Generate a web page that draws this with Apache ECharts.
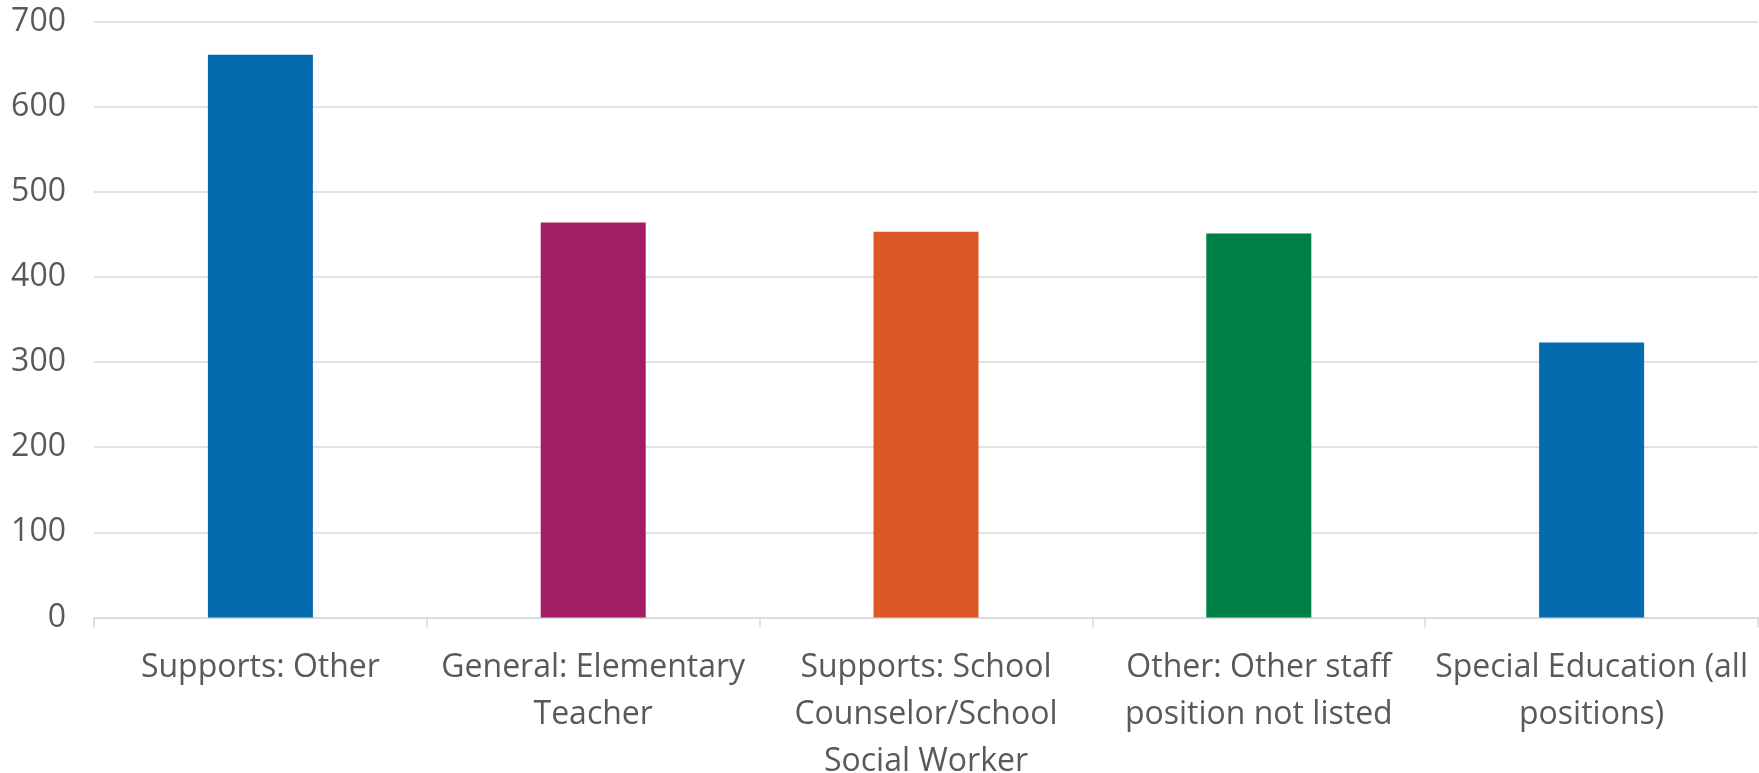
<!DOCTYPE html>
<html>
<head>
<meta charset="utf-8">
<script src="https://cdn.jsdelivr.net/npm/echarts@6/dist/echarts.min.js"></script>
<style>
html,body{margin:0;padding:0;background:#fff;}
#chart{width:1759px;height:773px;}
</style>
</head>
<body>
<div id="chart"></div>
<script>
const categories = [
  "Supports: Other",
  "General: Elementary Teacher",
  "Supports: School Counselor/School Social Worker",
  "Other: Other staff position not listed",
  "Special Education (all positions)"
];
const categoryLabels = [
  "Supports: Other",
  "General: Elementary\nTeacher",
  "Supports: School\nCounselor/School\nSocial Worker",
  "Other: Other staff\nposition not listed",
  "Special Education (all\npositions)"
];
const values = [661, 464, 453, 451, 323];
const barColors = ["#036BAE", "#A21F63", "#DC5626", "#007F45", "#036BAE"];
const yTicks = { min: 0, max: 700, interval: 100 };

const chart = echarts.init(document.getElementById('chart'), null, { renderer: 'canvas' });
chart.setOption({
  animation: false,
  backgroundColor: '#ffffff',
  grid: { left: 94, right: 1, top: 21.5, bottom: 155.5, containLabel: false, outerBoundsMode: 'none' },
  xAxis: {
    type: 'category',
    data: categories,
    axisLine: { lineStyle: { color: '#d9d9d9', width: 1.5 } },
    axisTick: { show: true, length: 10, lineStyle: { color: '#d9d9d9', width: 1.5 } },
    axisLabel: {
      interval: 0,
      color: '#595959',
      fontFamily: 'Open Sans',
      fontSize: 32,
      lineHeight: 47,
      margin: 27,
      formatter: function (v, i) { return categoryLabels[i]; }
    }
  },
  yAxis: {
    type: 'value',
    min: yTicks.min,
    max: yTicks.max,
    interval: yTicks.interval,
    axisLine: { show: false },
    axisTick: { show: false },
    splitLine: { lineStyle: { color: '#d9d9d9', width: 1.5 } },
    axisLabel: {
      color: '#595959',
      fontFamily: 'Open Sans',
      fontSize: 32,
      margin: 28
    }
  },
  series: [{
    type: 'bar',
    barWidth: 105,
    data: values.map((v, i) => ({ value: v, itemStyle: { color: barColors[i] } }))
  }]
});
</script>
</body>
</html>
